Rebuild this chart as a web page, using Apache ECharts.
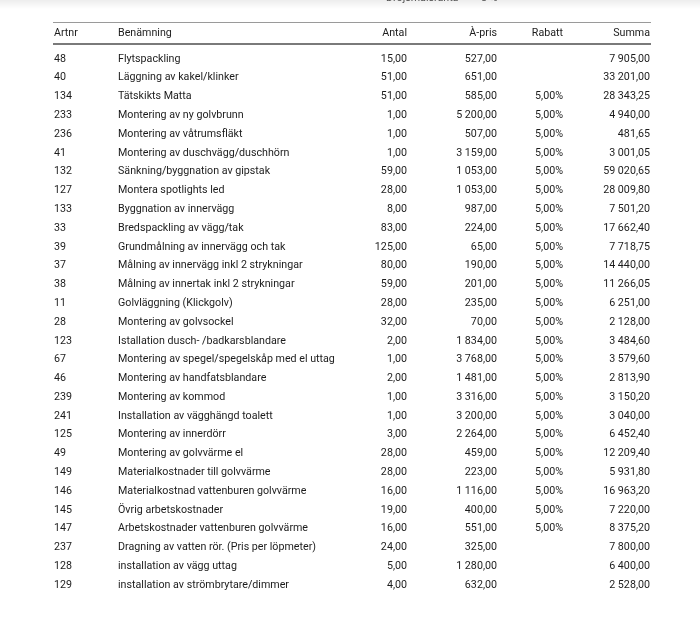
<!DOCTYPE html>
<html><head><meta charset="utf-8">
<script src="https://cdn.jsdelivr.net/npm/echarts@6/dist/echarts.min.js"></script>
<style>html,body{margin:0;padding:0;background:#fff}#c{width:700px;height:635px}</style>
</head><body><div id="c"></div>
<script>
const headers = ['Artnr', 'Benämning', 'Antal', 'À-pris', 'Rabatt', 'Summa'];
const artnr = [48, 40, 134, 233, 236, 41, 132, 127, 133, 33, 39, 37, 38, 11, 28, 123, 67, 46, 239, 241, 125, 49, 149, 146, 145, 147, 237, 128, 129];
const names = [
  'Flytspackling', 'Läggning av kakel/klinker', 'Tätskikts Matta', 'Montering av ny golvbrunn',
  'Montering av våtrumsfläkt', 'Montering av duschvägg/duschhörn', 'Sänkning/byggnation av gipstak',
  'Montera spotlights led', 'Byggnation av innervägg', 'Bredspackling av vägg/tak',
  'Grundmålning av innervägg och tak', 'Målning av innervägg inkl 2 strykningar',
  'Målning av innertak inkl 2 strykningar', 'Golvläggning (Klickgolv)', 'Montering av golvsockel',
  'Istallation dusch- /badkarsblandare', 'Montering av spegel/spegelskåp med el uttag',
  'Montering av handfatsblandare', 'Montering av kommod', 'Installation av vägghängd toalett',
  'Montering av innerdörr', 'Montering av golvvärme el', 'Materialkostnader till golvvärme',
  'Materialkostnad vattenburen golvvärme', 'Övrig arbetskostnader', 'Arbetskostnader vattenburen golvvärme',
  'Dragning av vatten rör. (Pris per löpmeter)', 'installation av vägg uttag', 'installation av strömbrytare/dimmer'
];
const antal = [15, 51, 51, 1, 1, 1, 59, 28, 8, 83, 125, 80, 59, 28, 32, 2, 1, 2, 1, 1, 3, 28, 28, 16, 19, 16, 24, 5, 4];
const apris = [527, 651, 585, 5200, 507, 3159, 1053, 1053, 987, 224, 65, 190, 201, 235, 70, 1834, 3768, 1481, 3316, 3200, 2264, 459, 223, 1116, 400, 551, 325, 1280, 632];
const rabatt = [null, null, 5, 5, 5, 5, 5, 5, 5, 5, 5, 5, 5, 5, 5, 5, 5, 5, 5, 5, 5, 5, 5, 5, 5, 5, null, null, null];
const summa = [7905, 33201, 28343.25, 4940, 481.65, 3001.05, 59020.65, 28009.80, 7501.20, 17662.40, 7718.75, 14440, 11266.05, 6251, 2128, 3484.60, 3579.60, 2813.90, 3150.20, 3040, 6452.40, 12209.40, 5931.80, 16963.20, 7220, 8375.20, 7800, 6400, 2528];

// layout
const colX = [54, 118, 407, 497, 563, 650];
const colAlign = ['left', 'left', 'right', 'right', 'right', 'right'];
const FONT = '10.7px Roboto';
const INK = '#1c1c1c';

function fmt(v) {
  const s = v.toFixed(2).split('.');
  const intPart = s[0].replace(/\B(?=(\d{3})+(?!\d))/g, ' ');
  return intPart + ',' + s[1];
}

const rows = names.map((_, i) => i);
const chart = echarts.init(document.getElementById('c'), null, { renderer: 'canvas' });

const headerGraphics = headers.map((h, k) => ({
  type: 'text', x: colX[k], y: 33,
  style: { text: h, font: FONT, fill: INK, textAlign: colAlign[k], textVerticalAlign: 'middle' }
}));

chart.setOption({
  animation: false,
  backgroundColor: '#fff',
  grid: { left: 0, right: 0, top: 49.6, bottom: 40.5 },
  xAxis: { type: 'value', min: 0, max: 700, show: false },
  yAxis: { type: 'category', data: rows, inverse: true, show: false },
  graphic: [
    { type: 'rect', shape: { x: 0, y: 0, width: 700, height: 9 },
      style: { fill: { type: 'linear', x: 0, y: 0, x2: 0, y2: 1,
        colorStops: [{ offset: 0, color: 'rgba(0,0,0,0.07)' }, { offset: 1, color: 'rgba(0,0,0,0)' }] } } },
    { type: 'text', x: 386, y: -7, style: { text: 'Dröjsmålsränta', font: FONT, fill: '#555' } },
    { type: 'text', x: 481, y: -7, style: { text: '8 %', font: FONT, fill: '#555' } },
    { type: 'line', shape: { x1: 53, y1: 22.5, x2: 651, y2: 22.5 }, style: { stroke: '#9a9a9a', lineWidth: 1.2 } },
    { type: 'line', shape: { x1: 53, y1: 44, x2: 651, y2: 44 }, style: { stroke: '#7a7a7a', lineWidth: 2.2 } }
  ].concat(headerGraphics),
  series: [{
    type: 'custom',
    clip: false,
    data: rows.map(i => [0, i]),
    encode: { x: 0, y: 1 },
    renderItem: function (params, api) {
      const i = api.value(1);
      const cells = [
        String(artnr[i]),
        names[i],
        fmt(antal[i]),
        fmt(apris[i]),
        rabatt[i] == null ? '' : fmt(rabatt[i]) + '%',
        fmt(summa[i])
      ];
      return {
        type: 'group',
        children: cells.map((t, k) => {
          const p = api.coord([colX[k], i]);
          return {
            type: 'text',
            style: { x: p[0], y: p[1], text: t, font: FONT, fill: INK, textAlign: colAlign[k], textVerticalAlign: 'middle' }
          };
        })
      };
    }
  }]
});
</script>
</body></html>
